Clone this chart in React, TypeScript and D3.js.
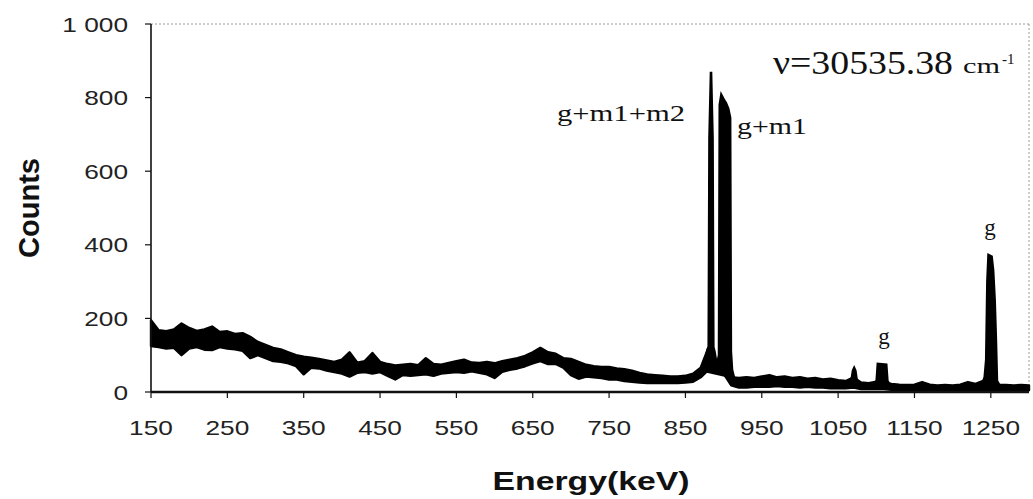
import { area, line, range, scaleLinear } from "d3";

const WIDTH = 1033;
const HEIGHT = 499;
const LEFT = 151;
const RIGHT = 1029;
const TOP = 24;
const BOTTOM = 392;

const SANS = "'Liberation Sans', Arial, sans-serif";
const SERIF = "'Liberation Serif', 'Times New Roman', serif";

// noisy continuum, read as min / max of the trace every 10 keV (150 ... 1300)
const BAND_START = 150;
const BAND_STEP = 10;
const BAND_HIGH = [
  195, 168, 165, 170, 186, 174, 166, 170, 178, 163,
  165, 158, 160, 150, 136, 128, 120, 116, 108, 100,
  96, 93, 90, 86, 82, 88, 108, 80, 84, 106,
  82, 76, 72, 74, 76, 73, 92, 76, 74, 79,
  84, 88, 80, 79, 82, 78, 84, 88, 92, 98,
  108, 120, 108, 104, 92, 90, 82, 74, 70, 68,
  68, 64, 62, 58, 52, 48, 46, 44, 42, 42,
  44, 50, 66, 120, 85, 96, 40, 38, 40, 38,
  42, 46, 40, 42, 38, 40, 36, 38, 34, 36,
  32, 30, 40, 26, 24, 28, 26, 22, 20, 19,
  20, 27, 20, 18, 19, 18, 20, 27, 22, 30,
  30, 20, 19, 18, 19, 18,
];
const BAND_LOW = [
  125, 122, 118, 120, 100, 118, 122, 115, 114, 122,
  118, 116, 112, 92, 100, 92, 84, 82, 78, 70,
  48, 66, 64, 58, 54, 50, 42, 52, 54, 50,
  54, 44, 34, 46, 44, 46, 48, 44, 50, 52,
  54, 52, 56, 52, 48, 38, 55, 60, 64, 70,
  78, 84, 76, 76, 66, 46, 36, 42, 40, 38,
  34, 34, 30, 28, 26, 24, 24, 24, 24, 24,
  26, 28, 40, 60, 55, 50, 18, 12, 12, 14,
  14, 14, 16, 14, 14, 12, 14, 12, 12, 10,
  10, 10, 12, 8, 8, 8, 8, 6, 5, 5,
  5, 6, 5, 5, 5, 4, 5, 6, 5, 6,
  6, 5, 5, 5, 5, 5,
];

// sharp lines
const DOUBLET_E = [872, 876, 879, 880.5, 881.5, 883.5, 885.5, 886.5, 888, 890, 892, 894, 895, 897, 900, 903, 906, 908.5, 909.5, 911, 914];
const DOUBLET_C = [55, 85, 115, 122, 690, 870, 690, 122, 110, 85, 80, 100, 780, 807, 795, 785, 770, 745, 110, 60, 35];
const SPIKE_E = [1067, 1069.5, 1071, 1072.5, 1075];
const SPIKE_C = [24, 58, 65, 58, 22];
const SMALL_G_E = [1097, 1100.5, 1102, 1113, 1114.5, 1118];
const SMALL_G_C = [22, 30, 76, 74, 30, 18];
const BIG_G_E = [1238, 1242, 1244, 1245.5, 1247, 1251, 1253, 1255, 1256.5, 1258, 1262];
const BIG_G_C = [15, 40, 88, 300, 372, 368, 330, 250, 150, 30, 15];

const X_TICKS = [150, 250, 350, 450, 550, 650, 750, 850, 950, 1050, 1150, 1250];
const Y_TICKS = [0, 200, 400, 600, 800, 1000];
const Y_TICK_LABELS = ["0", "200", "400", "600", "800", "1 000"];

const x = scaleLinear().domain([150, 1300]).range([LEFT, RIGHT]);
const y = scaleLinear().domain([0, 1000]).range([BOTTOM, TOP]);

const bandEnergy = range(BAND_HIGH.length).map((i) => BAND_START + i * BAND_STEP);

const bandPath =
  area<number>()
    .x((e) => x(e))
    .y0((_, i) => y(BAND_LOW[i]))
    .y1((_, i) => y(BAND_HIGH[i]))(bandEnergy) ?? "";

function peakPath(energies: number[], counts: number[]) {
  return (
    line<number>()
      .x((e) => x(e))
      .y((_, i) => y(counts[i]))(energies) ?? ""
  );
}

const peaks = [
  peakPath(DOUBLET_E, DOUBLET_C),
  peakPath(SPIKE_E, SPIKE_C),
  peakPath(SMALL_G_E, SMALL_G_C),
  peakPath(BIG_G_E, BIG_G_C),
];

export default function App() {
  return (
    <svg
      width={WIDTH}
      height={HEIGHT}
      viewBox={`0 0 ${WIDTH} ${HEIGHT}`}
      style={{ position: "absolute", left: 0, top: 0, background: "#fff" }}
    >
      <rect x={0} y={0} width={WIDTH} height={HEIGHT} fill="#fff" />

      {/* plot area frame */}
      <line x1={LEFT} x2={RIGHT} y1={TOP} y2={TOP} stroke="#9a9a9a" strokeDasharray="2 2" />
      <line x1={RIGHT} x2={RIGHT} y1={TOP} y2={BOTTOM} stroke="#9a9a9a" strokeDasharray="2 2" />

      {/* spectrum */}
      <path d={bandPath} fill="#000" stroke="#000" strokeWidth={2.4} strokeLinejoin="round" />
      {peaks.map((d, i) => (
        <path key={i} d={d} fill="#000" stroke="#000" strokeWidth={2.6} strokeLinejoin="miter" />
      ))}

      {/* axes */}
      <line x1={LEFT} x2={LEFT} y1={TOP} y2={BOTTOM} stroke="#111" strokeWidth={1.6} />
      <line x1={LEFT} x2={RIGHT} y1={BOTTOM} y2={BOTTOM} stroke="#111" strokeWidth={2.4} />
      {Y_TICKS.map((t, i) => (
        <g key={t}>
          <line x1={LEFT - 6} x2={LEFT} y1={y(t)} y2={y(t)} stroke="#111" strokeWidth={1.2} />
          <text
            transform={`translate(128, ${y(t) + 7.5}) scale(1.25, 1)`}
            textAnchor="end"
            fontFamily={SANS}
            fontSize={21}
            fill="#222"
          >
            {Y_TICK_LABELS[i]}
          </text>
        </g>
      ))}
      {X_TICKS.map((t) => (
        <g key={t}>
          <line x1={x(t)} x2={x(t)} y1={BOTTOM} y2={BOTTOM + 6} stroke="#111" strokeWidth={1.2} />
          <text
            transform={`translate(${x(t)}, 435) scale(1.25, 1)`}
            textAnchor="middle"
            fontFamily={SANS}
            fontSize={21}
            fill="#222"
          >
            {t}
          </text>
        </g>
      ))}

      {/* axis titles */}
      <text
        x={591}
        y={490}
        textAnchor="middle"
        fontFamily={SANS}
        fontWeight="bold"
        fontSize={25}
        textLength={197}
        lengthAdjust="spacingAndGlyphs"
        fill="#111"
      >
        Energy(keV)
      </text>
      <text
        transform="translate(39, 208) rotate(-90)"
        textAnchor="middle"
        fontFamily={SANS}
        fontWeight="bold"
        fontSize={29}
        textLength={100}
        lengthAdjust="spacingAndGlyphs"
        fill="#111"
      >
        Counts
      </text>

      {/* annotations */}
      <text x={557} y={120.5} fontFamily={SERIF} fontSize={23} textLength={128} lengthAdjust="spacingAndGlyphs" fill="#111">
        g+m1+m2
      </text>
      <text x={737} y={133.5} fontFamily={SERIF} fontSize={23} textLength={70} lengthAdjust="spacingAndGlyphs" fill="#111">
        g+m1
      </text>
      <text x={990} y={235} textAnchor="middle" fontFamily={SERIF} fontSize={23} fill="#111">
        g
      </text>
      <text x={884} y={344} textAnchor="middle" fontFamily={SERIF} fontSize={23} fill="#111">
        g
      </text>
      <text x={773} y={74} fontFamily={SERIF} fontSize={33} textLength={180} lengthAdjust="spacingAndGlyphs" fill="#111">
        ν=30535.38
      </text>
      <text x={963} y={73} fontFamily={SERIF} fontSize={20} textLength={37} lengthAdjust="spacingAndGlyphs" fill="#111">
        cm
      </text>
      <text x={1002} y={64} fontFamily={SERIF} fontSize={15} fill="#111">
        -1
      </text>
    </svg>
  );
}
